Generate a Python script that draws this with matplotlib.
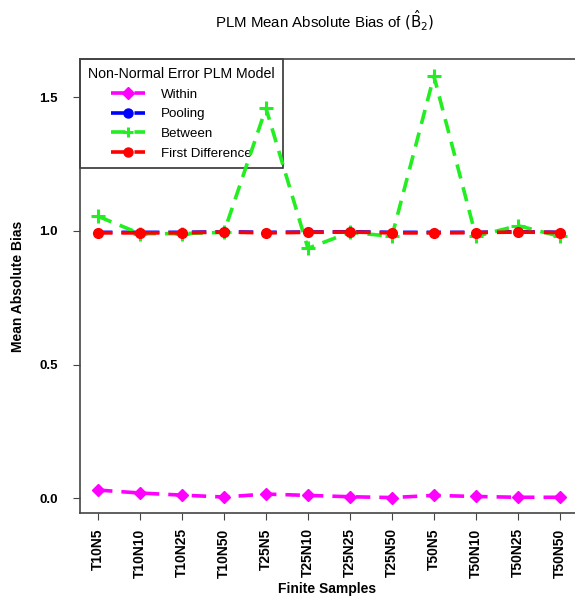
import matplotlib
matplotlib.use('Agg')
import matplotlib.pyplot as plt
import numpy as np

plt.rcParams['font.family'] = ['Liberation Sans', 'DejaVu Sans']

samples = ['T10N5', 'T10N10', 'T10N25', 'T10N50', 'T25N5', 'T25N10',
           'T25N25', 'T25N50', 'T50N5', 'T50N10', 'T50N25', 'T50N50']

within = [0.030, 0.019, 0.011, 0.004, 0.015, 0.010,
          0.005, 0.002, 0.010, 0.006, 0.003, 0.003]
pooling = [0.995, 0.995, 0.995, 0.997, 0.995, 0.996,
           0.997, 0.995, 0.995, 0.995, 0.997, 0.995]
between = [1.055, 0.99, 0.99, 0.995, 1.46, 0.935,
           0.995, 0.98, 1.58, 0.98, 1.02, 0.98]
first_diff = [0.993, 0.993, 0.993, 0.996, 0.993, 0.995,
              0.996, 0.993, 0.993, 0.994, 0.996, 0.994]

x = np.arange(len(samples))

fig = plt.figure(figsize=(5.75, 6.05), dpi=100)
ax = fig.add_axes([0.139, 0.152, 0.861, 0.7505])

ax.plot(x, within, color='magenta', linestyle='--', dashes=(4, 2.5), linewidth=2.6,
        marker='D', markersize=6.5, label='Within', zorder=3)
ax.plot(x, pooling, color='blue', linestyle='--', dashes=(4, 2.5), linewidth=2.6,
        marker='o', markersize=4, label='Pooling', zorder=3)
ax.plot(x, between, color='#22ee22', linestyle='--', dashes=(4, 2.5), linewidth=2.6,
        marker='+', markersize=10, markeredgewidth=2.2, label='Between', zorder=3)
ax.plot(x, first_diff, color='red', linestyle='--', dashes=(4, 2.5), linewidth=2.6,
        marker='o', markersize=7, label='First Difference', zorder=3)

ax.set_xlim(-0.43, 11.36)
ax.set_ylim(-0.056, 1.644)
ax.set_xticks(x)
ax.set_xticklabels(samples, rotation=90, fontsize=10, fontweight='bold')
ax.set_yticks([0.0, 0.5, 1.0, 1.5])
ax.set_yticklabels(['0.0', '0.5', '1.0', '1.5'], fontsize=9.5, fontweight='bold')
ax.tick_params(axis='x', length=5, width=0.8, color='#444444', pad=6)
ax.tick_params(axis='y', length=5, width=0.8, color='#444444', pad=11)
ax.spines['right'].set_visible(False)
for s in ['left', 'bottom', 'top']:
    ax.spines[s].set_color('#444444')
    ax.spines[s].set_linewidth(1.2)

ax.set_xlabel('Finite Samples', fontsize=10, fontweight='bold', labelpad=3)
ax.set_ylabel('Mean Absolute Bias', fontsize=10, fontweight='bold', labelpad=10)
fig.text(0.565, 0.966, r'PLM Mean Absolute Bias of $(\hat{\mathrm{B}}_2)$',
         ha='center', va='center', fontsize=10.8)

leg = ax.legend(title='Non-Normal Error PLM Model', loc='upper left',
                bbox_to_anchor=(0.0, 1.0), borderaxespad=0, fancybox=False,
                edgecolor='#333333', framealpha=1, fontsize=9.6,
                title_fontsize=10.2, handlelength=2.6, labelspacing=0.55,
                borderpad=0.6, handletextpad=1.2)
leg.get_frame().set_linewidth(1.2)
leg._legend_box.align = 'center'
leg.set_zorder(2)
for h in leg.legend_handles:
    h.set_markersize(6.5)

fig.savefig('out.png', dpi=100, facecolor='white')
